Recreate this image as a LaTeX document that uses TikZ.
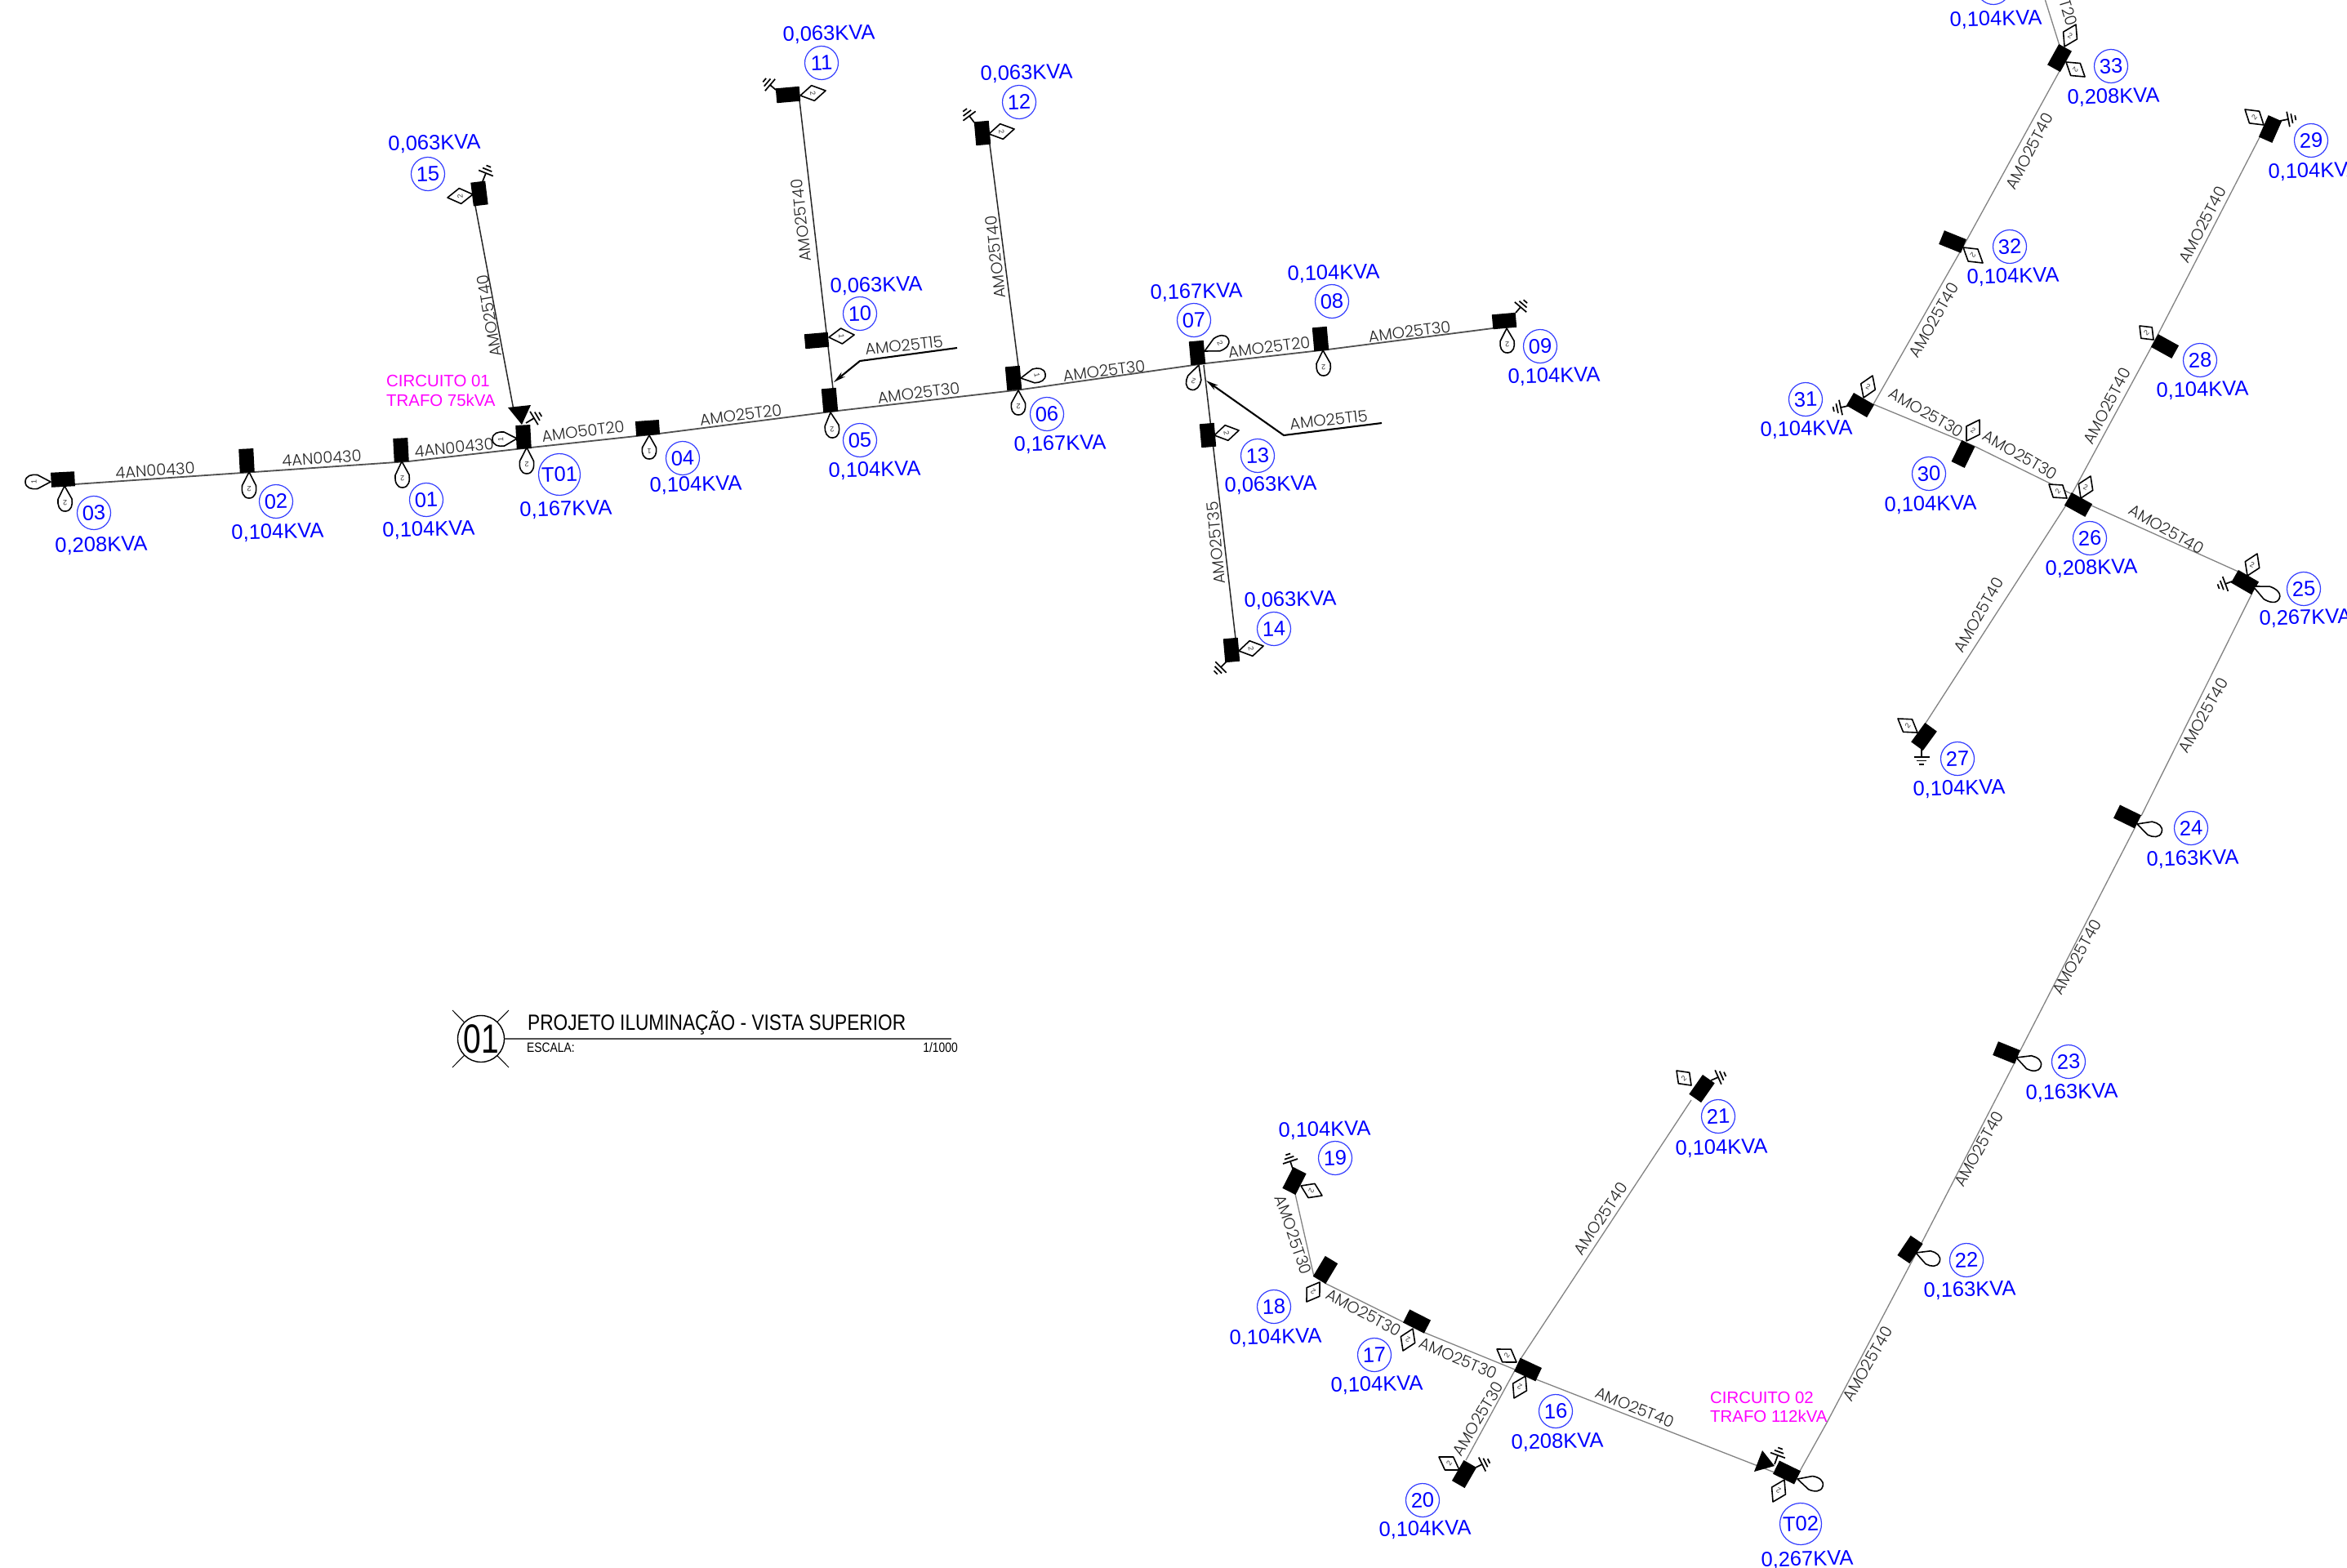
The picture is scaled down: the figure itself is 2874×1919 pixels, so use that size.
\documentclass[tikz,border=0pt]{standalone}
\usepackage{fontspec}
\setmainfont{Liberation Sans}
\newfontfamily\narrowf[FakeStretch=0.84]{Liberation Sans}
\newfontfamily\numf[FakeStretch=0.78]{Liberation Sans}
\newfontfamily\cadf{Poppins Light}
\usetikzlibrary{arrows.meta}
\definecolor{cblue}{RGB}{50,60,255}
\definecolor{kblue}{RGB}{0,0,255}
\definecolor{mag}{RGB}{255,0,255}
\definecolor{gline}{RGB}{130,130,130}
\definecolor{dline}{RGB}{80,80,80}
\tikzset{
 pole/.style={fill=black,draw=none,minimum width=29pt,minimum height=18pt,inner sep=0pt,outer sep=0pt},
 num/.style={circle,draw=cblue,line width=1.2pt,minimum size=41pt,inner sep=0pt,text=kblue,rotate=1.5,font=\fontsize{25.5}{28}\selectfont},
 bignum/.style={num,minimum size=51pt},
 kva/.style={text=kblue,inner sep=0pt,rotate=1.5,font=\fontsize{25.5}{28}\selectfont},
 cab/.style={text=black!85,inner sep=0pt,font=\cadf\fontsize{19.5}{21}\selectfont},
 cir/.style={text=mag,inner sep=0pt,anchor=base west,font=\fontsize{20.4}{22}\selectfont},
 symline/.style={draw=black,line width=1.6pt,line join=round,fill=white},
 gndline/.style={draw=black,line width=1.7pt},
 digit/.style={text=black!80,inner sep=0pt,font=\fontsize{9}{10}\selectfont},
 mainl/.style={draw=dline,line width=1.8pt},
 blk/.style={draw=black!85,line width=1.5pt},
 thin gray/.style={draw=gline,line width=1.3pt},
 call/.style={draw=black,line width=2.1pt,-{Stealth[length=15pt,width=7pt]}},
}
\newcounter{sy}
\newcommand\SymSetup[4]{\pgfmathsetmacro\symang{atan2(-(#4-#2),#3-#1)}\pgfmathsetmacro\symlen{veclen(#3-#1,#4-#2)}}
\newcommand\SymDigit[2]{\if\relax\detokenize{#2}\relax\else\stepcounter{sy}\node[digit,rotate=\symang-90] (sy\arabic{sy}) at ({#1*\symlen},0) {#2};\fi}
\newcommand\Drop[5]{\SymSetup{#1}{#2}{#3}{#4}%
 \begin{scope}[shift={(#1,#2)},rotate=\symang]
 \path[symline] (0,0) -- ({.52*\symlen},8.5) .. controls ({.75*\symlen},9.5) and (\symlen,7.5) .. (\symlen,0) .. controls (\symlen,-7.5) and ({.75*\symlen},-9.5) .. ({.52*\symlen},-8.5) -- cycle;
 \SymDigit{.66}{#5}
 \end{scope}}
\newcommand\Dia[5]{\SymSetup{#1}{#2}{#3}{#4}%
 \begin{scope}[shift={(#1,#2)},rotate=\symang]
 \path[symline] (0,0) -- ({.5*\symlen},9.5) -- (\symlen,0) -- ({.5*\symlen},-9.5) -- cycle;
 \SymDigit{.5}{#5}
 \end{scope}}
\newcommand\Gnd[4]{\SymSetup{#1}{#2}{#3}{#4}%
 \begin{scope}[shift={(#3,#4)},rotate=\symang]
 \path[gndline] (-\symlen,0) -- (0,0) (0,-9.5) -- (0,9.5) (4.5,-6) -- (4.5,6) (9,-3) -- (9,3);
 \end{scope}}
\begin{document}
\begin{tikzpicture}[x=1pt,y=-1pt]
\useasboundingbox (0,0) rectangle (2874,1919);
% ---------- connection points
\foreach \n/\x/\y in {j03/91/593,j02/311/578,j01/500/565,jT1/650/548,j04/807/531,j05/1026/503,j06/1251/477,j07/1476/445,j08/1626/428,j09/1828/402,
 j15/582/252,jT1t/629/502,j11/979/123,j05t/1020/476,j12/1212/177,j06t/1247/448,j14/1513/782,j07b/1474/447,
 ca1/1172/426,ca2/1053/442,ca3/1021/468,cb1/1692/518,cb2/1572/533,cb3/1477/466,
 j34/2495/-30,j33t/2522/56,j33b/2522/87,j32/2405/300,j31/2294/495,j30/2417/546,j26a/2537/605,j26e/2561/619,j25w/2741/700,
 j26s/2531/617,j27/2357/887,j28/2635/424,j29/2767/168,j25s/2758/726,j24t/2622/999,j24b/2614/1014,j23t/2473/1288,j23b/2466/1303,
 j22/2353/1522,jk1/2237/1742,jT2a/2203/1803,j19/1586/1462,j18a/1609/1563,j18b/1622/1571,j17/1745/1632,j16w/1855/1677,j16e/1881/1689,jT2w/2173/1803,
 j16n/1862/1664,j21/2071/1347,j16s/1855/1678,j20/1795/1788}{\coordinate (\n) at (\x,\y);}
% ---------- lines
\draw[mainl] (j03) -- (j02) -- (j01) -- (jT1) -- (j04) -- (j05) -- (j06) -- (j07) -- (j08) -- (j09);
\draw[blk] (j15) -- (jT1t);
\draw[blk] (j11) -- (j05t);
\draw[blk] (j12) -- (j06t);
\draw[blk] (j14) -- (j07b);
\draw[call] (ca1) -- (ca2) -- (ca3);
\draw[call] (cb1) -- (cb2) -- (cb3);
\draw[thin gray] (j34) -- (j33t);
\draw[thin gray] (j33b) -- (j32) -- (j31);
\draw[thin gray] (j31) -- (j30) -- (j26a);
\draw[thin gray] (j26e) -- (j25w);
\draw[thin gray] (j27) -- (j26s);
\draw[thin gray] (j26a) -- (j28) -- (j29);
\draw[thin gray] (j25s) -- (j24t);
\draw[thin gray] (j24b) -- (j23t);
\draw[thin gray] (j23b) -- (j22) -- (jk1) -- (jT2a);
\draw[thin gray] (j19) -- (j18a);
\draw[thin gray] (j18b) -- (j17) -- (j16w);
\draw[thin gray] (j16e) -- (jT2w);
\draw[thin gray] (j16n) -- (j21);
\draw[thin gray] (j16s) -- (j20);
% ---------- poles
\foreach \n/\x/\y/\r in {p03/77/587/3,p02/302/564/93,p01/491/551/93,pT1/641/535/93,p04/793/524/4,p05/1016/490/95,p06/1241/463/95,p07/1466/432/95,p08/1617/415/95,p09/1842/393/5,
 p10/1000/417/5,p11/965/116/5,p12/1203/163/95,p13/1479/533/95,p14/1508/796/95,p15/587/237/97,
 p33/2522/71/61,p32/2391/296/-22,p29/2780/158/66,p28/2651/424/-29,p26/2545/618/-29,p31/2278/496/-30,p30/2404/556/64,p25/2749/713/-30,
 p24/2605/1000/-26,p23/2457/1289/-22,p22/2339/1530/56,p27/2356/902/54,pT2/2188/1803/-26,
 p19/1585/1446/63,p18/1623/1555/59,p17/1735/1618/-27,p16/1871/1677/-25,p21/2084/1333/55,p20/1793/1805/60}{\node[pole,rotate=\r] (\n) at (\x,\y) {};}
% ---------- transformers
\fill[black] (622,499) -- (650,496) -- (639,520) -- cycle;
\fill[black] (2158,1776) -- (2173,1795) -- (2148,1802) -- cycle;
% ---------- teardrops
\Drop{62}{590}{31}{590}{1}
\Drop{79}{595}{80}{626}{2}
\Drop{305}{578}{305}{610}{2}
\Drop{492}{565}{493}{597}{2}
\Drop{633}{537}{603}{538}{1}
\Drop{645}{548}{645}{580}{2}
\Drop{795}{533}{795}{562}{1}
\Drop{1017}{505}{1020}{536}{2}
\Drop{1250}{463}{1280}{458}{1}
\Drop{1247}{478}{1247}{508}{2}
\Drop{1475}{430}{1504}{415}{2}
\Drop{1468}{447}{1458}{477}{2}
\Drop{1620}{429}{1621}{460}{2}
\Drop{1845}{402}{1846}{432}{2}
\Drop{2759}{718}{2791}{733}{}
\Drop{2617}{1009}{2647}{1019}{}
\Drop{2469}{1295}{2499}{1306}{}
\Drop{2346}{1534}{2375}{1545}{}
\Drop{2201}{1811}{2232}{1820}{}
% ---------- diamonds
\Dia{1015}{413}{1046}{410}{1}
\Dia{980}{117}{1011}{111}{2}
\Dia{1211}{164}{1242}{158}{2}
\Dia{579}{238}{548}{242}{2}
\Dia{1487}{533}{1517}{527}{2}
\Dia{1517}{797}{1547}{791}{2}
\Dia{2528}{57}{2542}{30}{2}
\Dia{2530}{76}{2553}{94}{2}
\Dia{2404}{303}{2428}{322}{2}
\Dia{2772}{153}{2749}{134}{2}
\Dia{2637}{416}{2620}{399}{2}
\Dia{2548}{610}{2560}{583}{2}
\Dia{2531}{610}{2509}{593}{2}
\Dia{2282}{487}{2293}{460}{2}
\Dia{2408}{540}{2424}{514}{2}
\Dia{2752}{705}{2764}{678}{2}
\Dia{2348}{897}{2324}{880}{2}
\Dia{2185}{1812}{2171}{1839}{2}
\Dia{1593}{1452}{1619}{1464}{2}
\Dia{1616}{1570}{1600}{1594}{2}
\Dia{1730}{1627}{1718}{1654}{2}
\Dia{1857}{1668}{1833}{1652}{2}
\Dia{1868}{1685}{1854}{1712}{2}
\Dia{2071}{1329}{2053}{1311}{2}
\Dia{1787}{1800}{1762}{1784}{2}
% ---------- grounds
\Gnd{644}{518}{654}{512}
\Gnd{1856}{383}{1862}{376}
\Gnd{950}{110}{943}{104}
\Gnd{1193}{150}{1187}{142}
\Gnd{591}{222}{595}{212}
\Gnd{1502}{810}{1495}{817}
\Gnd{2792}{148}{2802}{146}
\Gnd{2263}{497}{2254}{499}
\Gnd{2733}{712}{2725}{715}
\Gnd{2353}{917}{2353}{927}
\Gnd{2095}{1323}{2104}{1319}
\Gnd{1583}{1431}{1580}{1422}
\Gnd{1807}{1797}{1815}{1793}
\Gnd{2173}{1793}{2177}{1782}
% ---------- numbered circles
\foreach \t/\x/\y in {03/115/628,02/338/614,01/522/612,15/524/213,11/1006/77,12/1248/125,10/1053/384,05/1053/539,06/1282/507,04/836/561,
 07/1462/392,08/1631/369,09/1886/424,13/1540/558,14/1560/770,33/2585/81,29/2830/172,32/2461/302,28/2694/441,31/2211/489,30/2362/580,26/2559/659,25/2821/721,
 27/2397/929,24/2683/1014,23/2533/1300,22/2408/1543,21/2104/1367,19/1635/1418,18/1560/1600,17/1683/1659,16/1905/1728,20/1742/1837}{\node[num] (c\t) at (\x,\y) {\t};}
\node[bignum] (cT01) at (685,581) {T01};
\node[bignum] (cT02) at (2205,1866) {T02};
\node[num] (c34) at (2441,-15) {};
% ---------- loads
\foreach \i/\t/\x/\y in {a/{0,208KVA}/124/668,b/{0,104KVA}/340/652,c/{0,104KVA}/525/649,d/{0,167KVA}/693/624,e/{0,063KVA}/532/176,f/{0,063KVA}/1015/42,g/{0,063KVA}/1257/90,h/{0,063KVA}/1073/350,
 i/{0,104KVA}/1071/576,j/{0,167KVA}/1298/544,k/{0,104KVA}/852/594,l/{0,167KVA}/1465/358,m/{0,104KVA}/1633/335,n/{0,104KVA}/1903/461,o/{0,063KVA}/1556/594,p/{0,063KVA}/1580/735,
 q/{0,208KVA}/2588/119,r/{0,104KVA}/2444/24,s/{0,104KVA}/2834/210,t/{0,104KVA}/2465/339,u/{0,104KVA}/2697/478,v/{0,104KVA}/2212/526,w/{0,104KVA}/2364/618,x/{0,208KVA}/2561/696,y/{0,267KVA}/2823/757,
 z/{0,104KVA}/2399/966,aa/{0,163KVA}/2685/1052,ab/{0,163KVA}/2537/1338,ac/{0,163KVA}/2412/1580,ad/{0,104KVA}/2108/1406,ae/{0,104KVA}/1622/1384,af/{0,104KVA}/1562/1638,ag/{0,104KVA}/1686/1696,ah/{0,208KVA}/1907/1766,ai/{0,104KVA}/1745/1873,aj/{0,267KVA}/2213/1910}{\node[kva] (k\i) at (\x,\y) {\t};}
% ---------- cable labels
\foreach \i/\t/\x/\y/\r in {a/4AN00430/190/576/4,b/4AN00430/394/561/4,c/4AN00430/556/548/6,d/AMO50T20/714/528/7,e/AMO25T20/907/508/7,f/AMO25T30/1125/481/7,g/AMO25T30/1352/454/7,h/AMO25T20/1554/425/7,i/AMO25T30/1726/406/7,
 j/AMO25T15/1627/514/6,k/AMO25T15/1107/423/6,l/AMO25T40/599/387/100,m/AMO25T40/981/270/96,n/AMO25T40/1219/315/96,o/AMO25T35/1489/665/95,
 p/AMO25T40/2485/185/62,q/AMO25T40/2697/275/62,r/AMO25T40/2368/392/60,s/AMO25T30/2359/505/-30,t/AMO25T30/2474/557/-30,u/AMO25T40/2580/497/62,v/AMO25T40/2653/648/-30,w/AMO25T40/2423/753/60,x/AMO25T40/2698/876/60,
 y/AMO25T40/2543/1172/61,z/AMO25T40/2423/1407/61,aa/AMO25T40/2287/1670/60,ab/AMO25T40/1960/1492/56,ac/AMO25T30/1584/1512/-71,ad/AMO25T30/1670/1607/-28,ae/AMO25T30/1786/1663/-23,af/AMO25T30/1810/1737/59,ag/AMO25T40/2002/1723/-22,ah/AMO25T20/2523/-17/-73}{\node[cab,rotate=\r] (t\i) at (\x,\y) {\t};}
% ---------- circuit notes
\node[cir] (n1) at (473,473) {CIRCUITO 01};
\node[cir] (n2) at (473,497) {TRAFO 75kVA};
\node[cir] (n3) at (2094,1718) {CIRCUITO 02};
\node[cir] (n4) at (2094,1741) {TRAFO 112kVA};
% ---------- title block
\coordinate (x1) at (554,1237); \coordinate (x2) at (623,1307); \coordinate (x3) at (623,1237); \coordinate (x4) at (554,1307);
\draw[black,line width=1pt] (x1) -- (x2) (x3) -- (x4);
\node[circle,draw=black,fill=white,line width=1.4pt,minimum size=57pt,inner sep=0pt,font=\numf\fontsize{50}{52}\selectfont] (tc) at (589,1272) {01};
\coordinate (tr) at (1165,1272);
\draw[dline,line width=1.8pt] (tc) -- (tr);
\node[anchor=base west,inner sep=0pt,font=\narrowf\fontsize{27}{29}\selectfont] (tt) at (646,1261) {PROJETO ILUMINAÇÃO - VISTA SUPERIOR};
\node[anchor=west,inner sep=0pt,font=\narrowf\fontsize{16.5}{18}\selectfont] (te) at (645,1283) {ESCALA:};
\node[anchor=east,inner sep=0pt,font=\narrowf\fontsize{16.5}{18}\selectfont] (ts) at (1173,1283) {1/1000};
\end{tikzpicture}
\end{document}
